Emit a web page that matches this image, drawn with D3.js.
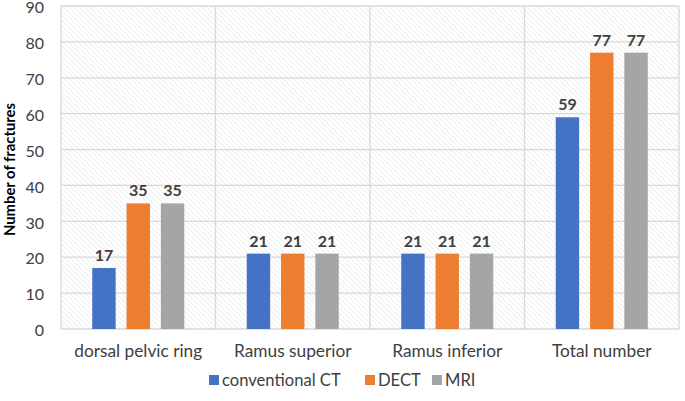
<!DOCTYPE html>
<html><head><meta charset="utf-8">
<script src="https://cdn.jsdelivr.net/npm/d3@7"></script>
<style>body{margin:0;background:#fff}svg{display:block}text{font-family:Lato,"Open Sans",sans-serif}</style>
</head><body>
<script>
const categories = ["dorsal pelvic ring","Ramus superior","Ramus inferior","Total number"];
const seriesNames = ["conventional CT","DECT","MRI"];
const ctValues = [17,21,21,59];
const dectValues = [35,21,21,77];
const mriValues = [35,21,21,77];
const yTicks = [0,10,20,30,40,50,60,70,80,90];
const colors = ["#4472c4","#ed7d31","#a5a5a5"];
const yTitle = "Number of fractures";

const W=685,H=401;
const m={l:61,r:6,t:6,b:72};
const svg=d3.select("body").append("svg").attr("width",W).attr("height",H);
const defs=svg.append("defs");
const pat=defs.append("pattern").attr("id","hatch").attr("patternUnits","userSpaceOnUse")
  .attr("width",3.6).attr("height",3.6).attr("patternTransform","rotate(-45)");
pat.append("rect").attr("width",3.6).attr("height",3.6).attr("fill","#fff");
pat.append("line").attr("x1",0).attr("y1",0).attr("x2",0).attr("y2",3.6).attr("stroke","#e6e6e6").attr("stroke-width",1.3);

const x=d3.scaleBand().domain(categories).range([m.l,W-m.r]).padding(0);
const xi=d3.scaleBand().domain(seriesNames).range([0,x.bandwidth()]).paddingInner(0.318).paddingOuter(0.911);
const y=d3.scaleLinear().domain([0,90]).range([H-m.b,m.t]);

svg.append("rect").attr("x",m.l).attr("y",m.t).attr("width",W-m.r-m.l).attr("height",H-m.b-m.t).attr("fill","url(#hatch)");

const g=svg.append("g");
g.selectAll("line.h").data(yTicks).join("line").attr("class","h")
  .attr("x1",m.l).attr("x2",W-m.r).attr("y1",d=>y(d)).attr("y2",d=>y(d))
  .attr("stroke","#d9d9d9").attr("stroke-width",1.3);
const seps=[...categories.map(c=>x(c)), W-m.r];
g.selectAll("line.v").data(seps).join("line").attr("class","v")
  .attr("x1",d=>d).attr("x2",d=>d).attr("y1",m.t).attr("y2",y(0))
  .attr("stroke","#d9d9d9").attr("stroke-width",1.3);

const series=[ctValues,dectValues,mriValues];
const data=[];
categories.forEach((c,i)=>seriesNames.forEach((s,j)=>data.push({c,s,v:series[j][i],col:colors[j]})));
svg.selectAll("rect.bar").data(data).join("rect").attr("class","bar")
  .attr("x",d=>x(d.c)+xi(d.s)).attr("width",xi.bandwidth())
  .attr("y",d=>y(d.v)).attr("height",d=>y(0)-y(d.v)).attr("fill",d=>d.col);
svg.selectAll("text.val").data(data).join("text").attr("class","val")
  .attr("x",d=>x(d.c)+xi(d.s)+xi.bandwidth()/2).attr("y",d=>y(d.v)-7)
  .attr("text-anchor","middle").attr("font-size",16).attr("font-weight","bold").attr("fill","#404040")
  .text(d=>d.v);

const ya=svg.append("g").attr("transform",`translate(${m.l},0)`)
  .call(d3.axisLeft(y).tickValues(yTicks).tickSize(0).tickPadding(17));
ya.select(".domain").remove();
ya.selectAll("text").attr("font-size",16).attr("dy","0.42em").attr("fill","#404040").style("font-family","Lato,sans-serif");

const xa=svg.append("g").attr("transform",`translate(0,${y(0)})`)
  .call(d3.axisBottom(x).tickSize(0).tickPadding(16));
xa.select(".domain").remove();
xa.selectAll("text").attr("font-size",17.3).attr("fill","#404040").style("font-family","Lato,sans-serif");

svg.append("text").attr("transform",`translate(15,${(m.t+y(0))/2+2}) rotate(-90)`)
  .attr("text-anchor","middle").attr("font-size",14.8).attr("font-weight","bold").attr("fill","#000").text(yTitle);

const legX=[209,365,432];
const lg=svg.append("g");
seriesNames.forEach((s,j)=>{
  lg.append("rect").attr("x",legX[j]).attr("y",375).attr("width",10).attr("height",10).attr("fill",colors[j]);
  lg.append("text").attr("x",legX[j]+13).attr("y",386).attr("font-size",16.6).attr("fill","#404040").text(s);
});
</script>
</body></html>
